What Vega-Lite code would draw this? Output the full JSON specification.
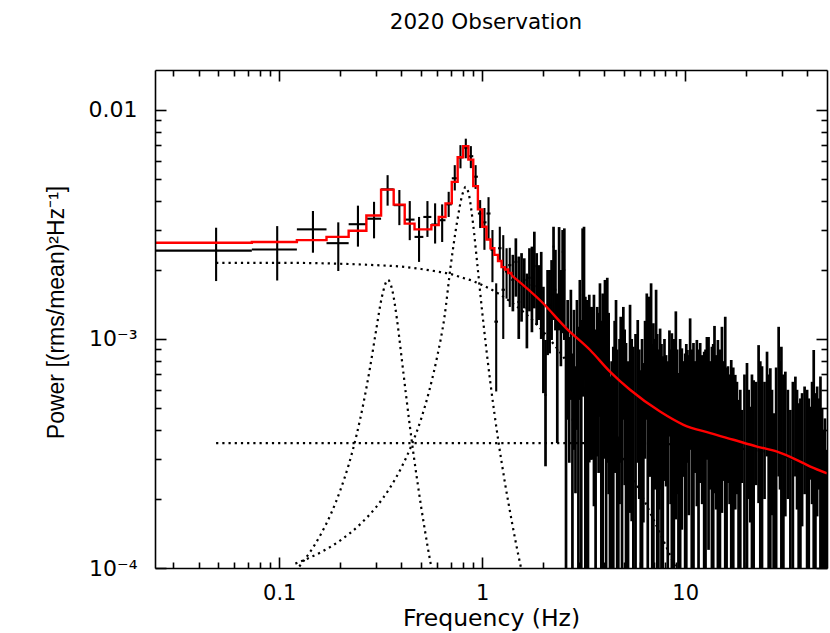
{
"$schema": "https://vega.github.io/schema/vega-lite/v6.json",
"width": 672, "height": 498,
"autosize": {"type": "none"},
"padding": {"left": 155, "top": 70, "right": 3, "bottom": 65},
"background": "white",
"title": {"text": "2020 Observation", "font": "DejaVu Sans", "fontSize": 21.5, "fontWeight": "normal", "color": "black", "anchor": "middle", "baseline": "alphabetic", "offset": 19, "dx": -5},
"config": {"view": {"stroke": null}},
"datasets": {
"bins": [
{"f":0.04883,"flo":0.02441,"fhi":0.07324,"p":2.43e-3,"lo":1.79e-3,"hi":3.06e-3},
{"f":0.09766,"flo":0.07324,"fhi":0.1221,"p":2.46e-3,"lo":1.80e-3,"hi":3.11e-3},
{"f":0.1465,"flo":0.1221,"fhi":0.1709,"p":3.01e-3,"lo":2.38e-3,"hi":3.62e-3},
{"f":0.1953,"flo":0.1709,"fhi":0.2197,"p":2.62e-3,"lo":1.98e-3,"hi":3.23e-3},
{"f":0.2441,"flo":0.2197,"fhi":0.2686,"p":3.17e-3,"lo":2.53e-3,"hi":3.82e-3},
{"f":0.2930,"flo":0.2686,"fhi":0.3174,"p":3.35e-3,"lo":2.75e-3,"hi":3.97e-3},
{"f":0.3418,"flo":0.3174,"fhi":0.3662,"p":4.50e-3,"lo":3.82e-3,"hi":5.19e-3},
{"f":0.3906,"flo":0.3662,"fhi":0.4150,"p":3.84e-3,"lo":3.14e-3,"hi":4.47e-3},
{"f":0.4395,"flo":0.4150,"fhi":0.4639,"p":3.32e-3,"lo":2.70e-3,"hi":4.00e-3},
{"f":0.4883,"flo":0.4639,"fhi":0.5127,"p":2.79e-3,"lo":2.17e-3,"hi":3.41e-3},
{"f":0.5371,"flo":0.5127,"fhi":0.5615,"p":3.41e-3,"lo":2.79e-3,"hi":4.00e-3},
{"f":0.5859,"flo":0.5615,"fhi":0.6104,"p":3.16e-3,"lo":2.61e-3,"hi":3.91e-3},
{"f":0.6348,"flo":0.6104,"fhi":0.6592,"p":3.30e-3,"lo":2.65e-3,"hi":3.87e-3},
{"f":0.6836,"flo":0.6592,"fhi":0.7080,"p":3.87e-3,"lo":3.41e-3,"hi":4.39e-3},
{"f":0.7324,"flo":0.7080,"fhi":0.7568,"p":5.03e-3,"lo":4.45e-3,"hi":5.74e-3},
{"f":0.7813,"flo":0.7568,"fhi":0.8057,"p":6.21e-3,"lo":5.56e-3,"hi":7.02e-3},
{"f":0.8301,"flo":0.8057,"fhi":0.8545,"p":6.84e-3,"lo":6.15e-3,"hi":7.49e-3},
{"f":0.8789,"flo":0.8545,"fhi":0.9033,"p":6.28e-3,"lo":5.57e-3,"hi":6.95e-3},
{"f":0.9277,"flo":0.9033,"fhi":0.9521,"p":5.11e-3,"lo":4.52e-3,"hi":5.74e-3},
{"f":0.9766,"flo":0.9521,"fhi":1.0010,"p":3.53e-3,"lo":3.05e-3,"hi":4.04e-3},
{"f":1.0254,"flo":1.0010,"fhi":1.0498,"p":3.23e-3,"lo":2.45e-3,"hi":3.73e-3},
{"f":1.0742,"flo":1.0498,"fhi":1.0986,"p":3.53e-3,"lo":2.70e-3,"hi":4.16e-3},
{"f":1.1230,"flo":1.0986,"fhi":1.1475,"p":2.45e-3,"lo":1.77e-3,"hi":2.99e-3},
{"f":1.1719,"flo":1.1475,"fhi":1.1963,"p":1.19e-3,"lo":5.9e-4,"hi":1.75e-3},
{"f":1.2207,"flo":1.1963,"fhi":1.2451,"p":2.49e-3,"lo":2.2e-3,"hi":3.09e-3},
{"f":1.2695,"flo":1.2451,"fhi":1.2939,"p":1.64e-3,"lo":1.0e-3,"hi":2.84e-3},
{"f":1.3184,"flo":1.2939,"fhi":1.3428,"p":1.97e-3,"lo":1.50e-3,"hi":2.49e-3},
{"f":1.3672,"flo":1.3428,"fhi":1.3916,"p":2.10e-3,"lo":1.38e-3,"hi":2.50e-3},
{"f":1.4160,"flo":1.3916,"fhi":1.4404,"p":1.81e-3,"lo":1.32e-3,"hi":2.33e-3},
{"f":1.4648,"flo":1.4404,"fhi":1.4893,"p":2.17e-3,"lo":1.53e-3,"hi":2.75e-3},
{"f":1.5137,"flo":1.4893,"fhi":1.5381,"p":1.45e-3,"lo":1.0e-3,"hi":2.29e-3},
{"f":1.5625,"flo":1.5381,"fhi":1.5869,"p":1.72e-3,"lo":1.19e-3,"hi":2.37e-3},
{"f":1.6113,"flo":1.5869,"fhi":1.6357,"p":1.81e-3,"lo":1.36e-3,"hi":2.25e-3},
{"f":1.6602,"flo":1.6357,"fhi":1.6846,"p":1.36e-3,"lo":9.1e-4,"hi":1.93e-3},
{"f":1.7090,"flo":1.6846,"fhi":1.7334,"p":1.85e-3,"lo":1.32e-3,"hi":2.49e-3},
{"f":1.7578,"flo":1.7334,"fhi":1.7822,"p":1.72e-3,"lo":1.07e-3,"hi":2.53e-3},
{"f":1.8066,"flo":1.7822,"fhi":1.8311,"p":2.08e-3,"lo":1.36e-3,"hi":2.94e-3},
{"f":1.8555,"flo":1.8311,"fhi":1.8799,"p":1.70e-3,"lo":1.15e-3,"hi":2.37e-3},
{"f":1.9043,"flo":1.8799,"fhi":1.9287,"p":1.64e-3,"lo":1.21e-3,"hi":2.10e-3},
{"f":1.9531,"flo":1.9287,"fhi":1.9775,"p":1.60e-3,"lo":1.0e-3,"hi":2.40e-3},
{"f":2.0020,"flo":1.9775,"fhi":2.0264,"p":1.04e-3,"lo":5.8e-4,"hi":1.69e-3},
{"f":2.0508,"flo":2.0264,"fhi":2.0752,"p":5.7e-4,"lo":2.78e-4,"hi":9.9e-4},
{"f":2.0996,"flo":2.0752,"fhi":2.1240,"p":1.41e-3,"lo":8.5e-4,"hi":2.0e-3},
{"f":2.1484,"flo":2.1240,"fhi":2.1729,"p":1.41e-3,"lo":8.65e-4,"hi":2.0e-3},
{"f":2.1973,"flo":2.1729,"fhi":2.2217,"p":1.56e-3,"lo":9.9e-4,"hi":2.21e-3},
{"f":2.2461,"flo":2.2217,"fhi":2.2705,"p":2.53e-3,"lo":1.21e-3,"hi":3.09e-3},
{"f":2.2949,"flo":2.2705,"fhi":2.3193,"p":1.64e-3,"lo":1.09e-3,"hi":2.45e-3},
{"f":2.3438,"flo":2.3193,"fhi":2.3682,"p":8.95e-4,"lo":3.51e-4,"hi":1.58e-3},
{"f":2.3926,"flo":2.3682,"fhi":2.4170,"p":2.10e-3,"lo":1.09e-3,"hi":3.08e-3},
{"f":2.4414,"flo":2.4170,"fhi":2.4658,"p":1.34e-3,"lo":7.6e-4,"hi":2.0e-3},
{"f":2.4902,"flo":2.4658,"fhi":2.5146,"p":2.40e-3,"lo":1.06e-3,"hi":2.99e-3},
{"f":2.5391,"flo":2.5146,"fhi":2.5635,"p":2.0e-3,"lo":9.9e-4,"hi":3.04e-3},
{"f":2.5879,"flo":2.5635,"fhi":2.6123,"p":6.6e-4,"lo":5e-5,"hi":1.13e-3},
{"f":2.6367,"flo":2.6123,"fhi":2.6611,"p":8.95e-4,"lo":4.44e-4,"hi":1.48e-3},
{"f":2.6855,"flo":2.6611,"fhi":2.7100,"p":6.0e-4,"lo":2.88e-4,"hi":1.02e-3},
{"f":2.7344,"flo":2.7100,"fhi":2.7588,"p":9.9e-4,"lo":5.42e-4,"hi":1.64e-3},
{"f":2.7832,"flo":2.7588,"fhi":2.8076,"p":4.44e-4,"lo":5e-5,"hi":8.65e-4},
{"f":2.8320,"flo":2.8076,"fhi":2.8564,"p":7.3e-4,"lo":3.28e-4,"hi":1.34e-3},
{"f":2.8809,"flo":2.8564,"fhi":2.9053,"p":4.44e-4,"lo":2.12e-4,"hi":7.6e-4},
{"f":2.9297,"flo":2.9053,"fhi":2.9541,"p":8.95e-4,"lo":4.01e-4,"hi":1.48e-3},
{"f":2.9785,"flo":2.9541,"fhi":3.0029,"p":6.0e-4,"lo":5e-5,"hi":1.13e-3},
{"f":3.0273,"flo":3.0029,"fhi":3.0518,"p":1.09e-3,"lo":5.42e-4,"hi":1.81e-3},
{"f":3.0762,"flo":3.0518,"fhi":3.1006,"p":6.6e-4,"lo":5e-5,"hi":1.21e-3},
{"f":3.1250,"flo":3.1006,"fhi":3.1494,"p":1.56e-3,"lo":5.6e-4,"hi":3.04e-3},
{"f":3.1738,"flo":3.1494,"fhi":3.1982,"p":1.64e-3,"lo":6.6e-4,"hi":3.09e-3},
{"f":3.2227,"flo":3.1982,"fhi":3.2471,"p":8.1e-4,"lo":5e-5,"hi":1.53e-3},
{"f":3.2715,"flo":3.2471,"fhi":3.2959,"p":7.3e-4,"lo":5e-5,"hi":1.48e-3},
{"f":3.3203,"flo":3.2959,"fhi":3.3447,"p":6.0e-4,"lo":5e-5,"hi":1.21e-3},
{"f":3.3691,"flo":3.3447,"fhi":3.3936,"p":8.95e-4,"lo":2.89e-4,"hi":1.56e-3},
{"f":3.4180,"flo":3.3936,"fhi":3.4424,"p":8.1e-4,"lo":2.97e-4,"hi":1.38e-3},
{"f":3.462,"p":8.4e-4,"lo":2.97e-4,"hi":1.38e-3},
{"f":3.507,"p":7.8e-4,"lo":3.5e-4,"hi":1.2e-3},
{"f":3.553,"p":8.7e-4,"lo":1.86e-4,"hi":1.56e-3},
{"f":3.62,"p":4.4e-4,"lo":5e-5,"hi":1.1e-3},
{"f":3.688,"p":8.4e-4,"lo":3.07e-4,"hi":1.38e-3},
{"f":3.745,"p":7.8e-4,"lo":2.6e-4,"hi":1.3e-3},
{"f":3.804,"p":1.10e-3,"lo":4.58e-4,"hi":1.75e-3},
{"f":3.863,"p":4.8e-4,"lo":5e-5,"hi":1.2e-3},
{"f":3.923,"p":6.3e-4,"lo":5e-5,"hi":1.58e-3},
{"f":3.974,"p":8.5e-4,"lo":3.0e-4,"hi":1.4e-3},
{"f":4.026,"p":1.29e-3,"lo":7.6e-4,"hi":1.81e-3},
{"f":4.079,"p":4.0e-4,"lo":5e-5,"hi":1.0e-3},
{"f":4.133,"p":1.07e-3,"lo":2.88e-4,"hi":1.85e-3},
{"f":4.197,"p":7.6e-4,"lo":2.1e-4,"hi":1.3e-3},
{"f":4.262,"p":2.7e-4,"lo":5e-5,"hi":6.85e-4},
{"f":4.343,"p":3.2e-4,"lo":5e-5,"hi":8.0e-4},
{"f":4.425,"p":3.7e-4,"lo":5e-5,"hi":9.25e-4},
{"f":4.494,"p":7.3e-4,"lo":2.6e-4,"hi":1.2e-3},
{"f":4.564,"p":9.2e-4,"lo":3.52e-4,"hi":1.48e-3},
{"f":4.624,"p":3.6e-4,"lo":5e-5,"hi":9.0e-4},
{"f":4.685,"p":1.5e-4,"lo":5e-5,"hi":3.75e-4},
{"f":4.749,"p":6.0e-4,"lo":1.9e-4,"hi":1.0e-3},
{"f":4.814,"p":7.7e-4,"lo":2.88e-4,"hi":1.25e-3},
{"f":4.886,"p":3.4e-4,"lo":5e-5,"hi":8.5e-4},
{"f":4.959,"p":9.1e-4,"lo":4.44e-4,"hi":1.38e-3},
{"f":5.035,"p":6.6e-4,"lo":2.3e-4,"hi":1.1e-3},
{"f":5.113,"p":3.8e-4,"lo":5e-5,"hi":9.6e-4},
{"f":5.231,"p":3.2e-4,"lo":5e-5,"hi":8.0e-4},
{"f":5.351,"p":7.9e-4,"lo":1.74e-4,"hi":1.41e-3},
{"f":5.452,"p":5.8e-4,"lo":1.6e-4,"hi":1.0e-3},
{"f":5.555,"p":3.7e-4,"lo":5e-5,"hi":9.25e-4},
{"f":5.696,"p":4.2e-4,"lo":5e-5,"hi":1.05e-3},
{"f":5.840,"p":7.5e-4,"lo":2.88e-4,"hi":1.21e-3},
{"f":5.941,"p":5.5e-4,"lo":2.0e-4,"hi":9.0e-4},
{"f":6.043,"p":2.9e-4,"lo":5e-5,"hi":7.3e-4},
{"f":6.133,"p":4.0e-4,"lo":5e-5,"hi":1.0e-3},
{"f":6.225,"p":4.7e-4,"lo":1.58e-4,"hi":7.85e-4},
{"f":6.346,"p":7.5e-4,"lo":3.0e-4,"hi":1.2e-3},
{"f":6.470,"p":1.01e-3,"lo":4.44e-4,"hi":1.58e-3},
{"f":6.544,"p":4.4e-4,"lo":5e-5,"hi":1.1e-3},
{"f":6.618,"p":9.3e-4,"lo":3.39e-4,"hi":1.53e-3},
{"f":6.705,"p":7.8e-4,"lo":2.5e-4,"hi":1.3e-3},
{"f":6.794,"p":1.14e-3,"lo":5.24e-4,"hi":1.75e-3},
{"f":6.883,"p":3.8e-4,"lo":5e-5,"hi":9.5e-4},
{"f":6.974,"p":4.7e-4,"lo":5e-5,"hi":1.17e-3},
{"f":7.082,"p":6.1e-4,"lo":2.2e-4,"hi":1.0e-3},
{"f":7.191,"p":1.12e-3,"lo":6.0e-4,"hi":1.64e-3},
{"f":7.286,"p":4.2e-4,"lo":5e-5,"hi":1.05e-3},
{"f":7.382,"p":3.1e-4,"lo":5e-5,"hi":7.85e-4},
{"f":7.453,"p":5.4e-4,"lo":1.8e-4,"hi":9.0e-4},
{"f":7.526,"p":6.7e-4,"lo":2.2e-4,"hi":1.11e-3},
{"f":7.643,"p":3.8e-4,"lo":5e-5,"hi":9.5e-4},
{"f":7.761,"p":3.4e-4,"lo":5e-5,"hi":8.4e-4},
{"f":7.908,"p":6.2e-4,"lo":2.4e-4,"hi":1.0e-3},
{"f":8.058,"p":5.4e-4,"lo":2.27e-4,"hi":8.5e-4},
{"f":8.211,"p":3.2e-4,"lo":5e-5,"hi":8.0e-4},
{"f":8.366,"p":7.3e-4,"lo":3.75e-4,"hi":1.09e-3},
{"f":8.481,"p":5.5e-4,"lo":1.9e-4,"hi":9.0e-4},
{"f":8.597,"p":4.2e-4,"lo":5e-5,"hi":1.06e-3},
{"f":8.795,"p":4.0e-4,"lo":5e-5,"hi":1.0e-3},
{"f":8.998,"p":7.4e-4,"lo":1.63e-4,"hi":1.32e-3},
{"f":9.131,"p":5.6e-4,"lo":2.1e-4,"hi":9.0e-4},
{"f":9.267,"p":2.8e-4,"lo":5e-5,"hi":7.1e-4},
{"f":9.448,"p":4.0e-4,"lo":5e-5,"hi":1.0e-3},
{"f":9.632,"p":5.3e-4,"lo":1.47e-4,"hi":9.1e-4},
{"f":9.814,"p":5.3e-4,"lo":2.5e-4,"hi":8.0e-4},
{"f":10.0,"p":3.5e-4,"lo":5e-5,"hi":8.65e-4},
{"f":10.13,"p":3.8e-4,"lo":5e-5,"hi":9.5e-4},
{"f":10.26,"p":5.9e-4,"lo":2.88e-4,"hi":8.95e-4},
{"f":10.42,"p":5.1e-4,"lo":1.7e-4,"hi":8.5e-4},
{"f":10.58,"p":7.8e-4,"lo":3.28e-4,"hi":1.23e-3},
{"f":10.78,"p":3.6e-4,"lo":5e-5,"hi":9.0e-4},
{"f":10.99,"p":3.8e-4,"lo":5e-5,"hi":9.6e-4},
{"f":11.2,"p":5.3e-4,"lo":2.6e-4,"hi":8.0e-4},
{"f":11.42,"p":5.9e-4,"lo":1.86e-4,"hi":9.9e-4},
{"f":11.64,"p":3.6e-4,"lo":5e-5,"hi":9.0e-4},
{"f":11.86,"p":6.0e-4,"lo":2.35e-4,"hi":9.6e-4},
{"f":12.13,"p":5.2e-4,"lo":1.9e-4,"hi":8.5e-4},
{"f":12.41,"p":3.5e-4,"lo":5e-5,"hi":8.8e-4},
{"f":12.6,"p":3.6e-4,"lo":5e-5,"hi":9.0e-4},
{"f":12.80,"p":6.6e-4,"lo":2.97e-4,"hi":1.02e-3},
{"f":13.04,"p":5.7e-4,"lo":1.20e-4,"hi":1.02e-3},
{"f":13.29,"p":5.1e-4,"lo":2.2e-4,"hi":8.0e-4},
{"f":13.55,"p":3.7e-4,"lo":5e-5,"hi":9.25e-4},
{"f":13.75,"p":3.8e-4,"lo":5e-5,"hi":9.5e-4},
{"f":13.95,"p":6.8e-4,"lo":2.12e-4,"hi":1.14e-3},
{"f":14.22,"p":5.2e-4,"lo":1.8e-4,"hi":8.5e-4},
{"f":14.50,"p":4.0e-4,"lo":5e-5,"hi":9.9e-4},
{"f":14.84,"p":3.6e-4,"lo":5e-5,"hi":9.0e-4},
{"f":15.18,"p":6.5e-4,"lo":1.74e-4,"hi":1.13e-3},
{"f":15.47,"p":5.2e-4,"lo":2.4e-4,"hi":8.0e-4},
{"f":15.76,"p":5.0e-4,"lo":5e-5,"hi":1.25e-3},
{"f":16.0,"p":3.0e-4,"lo":5e-5,"hi":7.5e-4},
{"f":16.25,"p":5.0e-4,"lo":2.35e-4,"hi":7.6e-4},
{"f":16.56,"p":4.5e-4,"lo":1.9e-4,"hi":7.0e-4},
{"f":16.87,"p":3.2e-4,"lo":5e-5,"hi":8.1e-4},
{"f":17.26,"p":3.0e-4,"lo":5e-5,"hi":7.5e-4},
{"f":17.66,"p":4.4e-4,"lo":1.80e-4,"hi":6.97e-4},
{"f":18.0,"p":4.3e-4,"lo":2.1e-4,"hi":6.5e-4},
{"f":18.33,"p":2.2e-4,"lo":5e-5,"hi":5.42e-4},
{"f":18.69,"p":2.4e-4,"lo":5e-5,"hi":6.0e-4},
{"f":19.05,"p":3.6e-4,"lo":2.35e-4,"hi":4.9e-4},
{"f":19.6,"p":2.8e-4,"lo":5e-5,"hi":7.0e-4},
{"f":20.17,"p":3.1e-4,"lo":5e-5,"hi":7.85e-4},
{"f":20.55,"p":4.0e-4,"lo":2.0e-4,"hi":6.0e-4},
{"f":20.94,"p":3.3e-4,"lo":1.58e-4,"hi":5.06e-4},
{"f":21.34,"p":2.8e-4,"lo":5e-5,"hi":7.0e-4},
{"f":21.75,"p":2.6e-4,"lo":5e-5,"hi":6.6e-4},
{"f":22.37,"p":4.4e-4,"lo":2.3e-4,"hi":6.5e-4},
{"f":23.01,"p":5.7e-4,"lo":1.92e-4,"hi":9.4e-4},
{"f":23.46,"p":3.2e-4,"lo":5e-5,"hi":8.0e-4},
{"f":23.92,"p":3.0e-4,"lo":5e-5,"hi":7.6e-4},
{"f":24.61,"p":4.3e-4,"lo":2.0e-4,"hi":6.5e-4},
{"f":25.32,"p":5.9e-4,"lo":3.07e-4,"hi":8.8e-4},
{"f":25.8,"p":2.8e-4,"lo":5e-5,"hi":7.0e-4},
{"f":26.29,"p":3.0e-4,"lo":5e-5,"hi":7.45e-4},
{"f":26.79,"p":3.9e-4,"lo":1.7e-4,"hi":6.0e-4},
{"f":27.29,"p":1.9e-4,"lo":5e-5,"hi":4.74e-4},
{"f":28.08,"p":3.0e-4,"lo":5e-5,"hi":7.5e-4},
{"f":28.89,"p":6.9e-4,"lo":2.51e-4,"hi":1.13e-3},
{"f":29.34,"p":5.1e-4,"lo":2.2e-4,"hi":8.0e-4},
{"f":29.80,"p":3.7e-4,"lo":5e-5,"hi":9.25e-4},
{"f":30.48,"p":2.8e-4,"lo":5e-5,"hi":7.0e-4},
{"f":31.17,"p":4.4e-4,"lo":1.68e-4,"hi":7.2e-4},
{"f":32.07,"p":4.0e-4,"lo":2.0e-4,"hi":6.0e-4},
{"f":33.00,"p":2.0e-4,"lo":5e-5,"hi":4.9e-4},
{"f":33.95,"p":2.6e-4,"lo":5e-5,"hi":6.5e-4},
{"f":34.93,"p":4.7e-4,"lo":2.51e-4,"hi":6.85e-4},
{"f":35.59,"p":3.9e-4,"lo":1.8e-4,"hi":6.0e-4},
{"f":36.26,"p":2.1e-4,"lo":5e-5,"hi":5.24e-4},
{"f":36.97,"p":2.2e-4,"lo":5e-5,"hi":5.5e-4},
{"f":37.69,"p":3.7e-4,"lo":1.52e-4,"hi":5.8e-4},
{"f":38.78,"p":4.2e-4,"lo":2.1e-4,"hi":6.2e-4},
{"f":39.90,"p":2.4e-4,"lo":5e-5,"hi":6.0e-4},
{"f":40.66,"p":2.2e-4,"lo":5e-5,"hi":5.5e-4},
{"f":41.43,"p":3.7e-4,"lo":2.43e-4,"hi":5.06e-4},
{"f":42.21,"p":4.2e-4,"lo":1.9e-4,"hi":6.5e-4},
{"f":43.01,"p":3.6e-4,"lo":5e-5,"hi":8.95e-4},
{"f":43.85,"p":2.3e-4,"lo":5e-5,"hi":5.8e-4},
{"f":44.71,"p":3.9e-4,"lo":1.68e-4,"hi":6.2e-4},
{"f":45.56,"p":3.9e-4,"lo":2.2e-4,"hi":5.5e-4},
{"f":46.42,"p":2.7e-4,"lo":5e-5,"hi":6.85e-4},
{"f":47.3,"p":2.0e-4,"lo":5e-5,"hi":5.0e-4},
{"f":48.19,"p":1.6e-4,"lo":5e-5,"hi":4.01e-4},
{"f":48.85,"p":1.8e-4,"lo":5e-5,"hi":4.5e-4},
{"f":49.52,"p":1.3e-4,"lo":5e-5,"hi":3.28e-4}
],
"modelStep": [
{"f":0.02441,"p":2.63e-3},{"f":0.07324,"p":2.65e-3},{"f":0.1221,"p":2.70e-3},{"f":0.1709,"p":2.79e-3},
{"f":0.2197,"p":2.97e-3},{"f":0.2686,"p":3.46e-3},{"f":0.3174,"p":4.49e-3},{"f":0.3662,"p":3.86e-3},
{"f":0.4150,"p":3.19e-3},{"f":0.4639,"p":3.01e-3},{"f":0.5127,"p":3.01e-3},{"f":0.5615,"p":3.14e-3},
{"f":0.6104,"p":3.41e-3},{"f":0.6592,"p":3.91e-3},{"f":0.7080,"p":4.85e-3},{"f":0.7568,"p":6.21e-3},
{"f":0.8057,"p":6.95e-3},{"f":0.8545,"p":6.07e-3},{"f":0.9033,"p":4.65e-3},{"f":0.9521,"p":3.68e-3},
{"f":1.0010,"p":3.09e-3},{"f":1.0498,"p":2.72e-3},{"f":1.0986,"p":2.49e-3},{"f":1.1475,"p":2.33e-3},
{"f":1.1963,"p":2.19e-3},{"f":1.2451,"p":2.06e-3},{"f":1.2939,"p":2.01e-3},{"f":1.3428,"p":1.94e-3},
{"f":1.3916,"p":1.90e-3}
],
"modelSmooth": [
{"f":1.3916,"p":1.90e-3},{"f":1.967,"p":1.45e-3},{"f":2.605,"p":1.11e-3},{"f":3.40,"p":8.95e-4},
{"f":4.26,"p":7.20e-4},{"f":5.35,"p":6.0e-4},{"f":7.52,"p":4.82e-4},{"f":9.81,"p":4.22e-4},
{"f":13.3,"p":3.88e-4},{"f":17.3,"p":3.63e-4},{"f":22.6,"p":3.39e-4},{"f":28.4,"p":3.22e-4},
{"f":35.6,"p":2.96e-4},{"f":41.4,"p":2.77e-4},{"f":50.0,"p":2.59e-4}
],
"comps": [
{"comp":"broad","f":0.04883,"p":2.15e-3},{"comp":"broad","f":0.1,"p":2.15e-3},{"comp":"broad","f":0.2,"p":2.13e-3},
{"comp":"broad","f":0.3,"p":2.10e-3},{"comp":"broad","f":0.4,"p":2.07e-3},{"comp":"broad","f":0.5,"p":2.02e-3},
{"comp":"broad","f":0.6,"p":1.97e-3},{"comp":"broad","f":0.7,"p":1.92e-3},{"comp":"broad","f":0.8,"p":1.85e-3},
{"comp":"broad","f":0.9,"p":1.79e-3},{"comp":"broad","f":1.0,"p":1.72e-3},{"comp":"broad","f":1.2,"p":1.58e-3},
{"comp":"broad","f":1.4,"p":1.44e-3},{"comp":"broad","f":1.6,"p":1.31e-3},{"comp":"broad","f":1.8,"p":1.19e-3},
{"comp":"broad","f":2.0,"p":1.075e-3},{"comp":"broad","f":2.5,"p":8.4e-4},{"comp":"broad","f":3.0,"p":6.6e-4},
{"comp":"broad","f":3.5,"p":5.3e-4},{"comp":"broad","f":4.0,"p":4.3e-4},{"comp":"broad","f":5.0,"p":2.97e-4},
{"comp":"broad","f":6.0,"p":2.15e-4},{"comp":"broad","f":7.0,"p":1.62e-4},{"comp":"broad","f":8.0,"p":1.26e-4},
{"comp":"broad","f":9.0,"p":1.0e-4},{"comp":"broad","f":9.5,"p":9.0e-5},
{"comp":"qpo1","f":0.12,"p":9.68e-5},{"comp":"qpo1","f":0.14,"p":1.155e-4},{"comp":"qpo1","f":0.16,"p":1.40e-4},
{"comp":"qpo1","f":0.18,"p":1.73e-4},{"comp":"qpo1","f":0.20,"p":2.19e-4},{"comp":"qpo1","f":0.22,"p":2.83e-4},
{"comp":"qpo1","f":0.24,"p":3.79e-4},{"comp":"qpo1","f":0.26,"p":5.25e-4},{"comp":"qpo1","f":0.28,"p":7.50e-4},
{"comp":"qpo1","f":0.30,"p":1.09e-3},{"comp":"qpo1","f":0.32,"p":1.52e-3},{"comp":"qpo1","f":0.343,"p":1.81e-3},
{"comp":"qpo1","f":0.36,"p":1.64e-3},{"comp":"qpo1","f":0.38,"p":1.22e-3},{"comp":"qpo1","f":0.40,"p":8.39e-4},
{"comp":"qpo1","f":0.42,"p":5.82e-4},{"comp":"qpo1","f":0.44,"p":4.16e-4},{"comp":"qpo1","f":0.46,"p":3.08e-4},
{"comp":"qpo1","f":0.48,"p":2.36e-4},{"comp":"qpo1","f":0.50,"p":1.85e-4},{"comp":"qpo1","f":0.52,"p":1.49e-4},
{"comp":"qpo1","f":0.54,"p":1.22e-4},{"comp":"qpo1","f":0.56,"p":1.02e-4},{"comp":"qpo1","f":0.58,"p":8.6e-5},
{"comp":"qpo2","f":0.12,"p":1.045e-4},{"comp":"qpo2","f":0.14,"p":1.106e-4},{"comp":"qpo2","f":0.16,"p":1.171e-4},
{"comp":"qpo2","f":0.20,"p":1.32e-4},{"comp":"qpo2","f":0.25,"p":1.55e-4},{"comp":"qpo2","f":0.30,"p":1.845e-4},
{"comp":"qpo2","f":0.35,"p":2.23e-4},{"comp":"qpo2","f":0.40,"p":2.75e-4},{"comp":"qpo2","f":0.45,"p":3.46e-4},
{"comp":"qpo2","f":0.50,"p":4.48e-4},{"comp":"qpo2","f":0.55,"p":6.01e-4},{"comp":"qpo2","f":0.60,"p":8.38e-4},
{"comp":"qpo2","f":0.65,"p":1.23e-3},{"comp":"qpo2","f":0.70,"p":2.1e-3},{"comp":"qpo2","f":0.75,"p":3.2e-3},
{"comp":"qpo2","f":0.80,"p":4.30e-3},{"comp":"qpo2","f":0.829,"p":4.61e-3},{"comp":"qpo2","f":0.86,"p":4.26e-3},
{"comp":"qpo2","f":0.90,"p":3.22e-3},{"comp":"qpo2","f":0.95,"p":2.04e-3},{"comp":"qpo2","f":1.00,"p":1.31e-3},
{"comp":"qpo2","f":1.05,"p":8.89e-4},{"comp":"qpo2","f":1.10,"p":6.32e-4},{"comp":"qpo2","f":1.15,"p":4.69e-4},
{"comp":"qpo2","f":1.20,"p":3.60e-4},{"comp":"qpo2","f":1.25,"p":2.85e-4},{"comp":"qpo2","f":1.30,"p":2.30e-4},
{"comp":"qpo2","f":1.35,"p":1.90e-4},{"comp":"qpo2","f":1.40,"p":1.59e-4},{"comp":"qpo2","f":1.45,"p":1.35e-4},
{"comp":"qpo2","f":1.50,"p":1.16e-4},{"comp":"qpo2","f":1.55,"p":1.01e-4},{"comp":"qpo2","f":1.60,"p":8.87e-5},
{"comp":"const","f":0.04883,"p":3.51e-4},{"comp":"const","f":2.0,"p":3.51e-4},{"comp":"const","f":5.0,"p":3.5e-4},
{"comp":"const","f":10.0,"p":3.45e-4},{"comp":"const","f":20.0,"p":3.3e-4},{"comp":"const","f":30.0,"p":3.1e-4},
{"comp":"const","f":40.0,"p":2.8e-4},{"comp":"const","f":50.0,"p":2.55e-4}
]
},
"resolve": {"axis": {"x": "independent", "y": "independent"}},
"layer": [
{
"data": {"name": "comps"},
"mark": {"type": "line", "color": "black", "strokeWidth": 2.2, "strokeDash": [2.2, 4], "clip": true, "interpolate": "monotone"},
"encoding": {
"x": {"field": "f", "type": "quantitative", "scale": {"type": "log", "domain": [0.02441, 50], "nice": false},
"axis": {"orient": "bottom", "values": [0.1, 1, 10], "format": "~g", "zindex": 1, "domain": true, "domainColor": "black", "domainWidth": 1.6, "tickSize": -11, "tickWidth": 1.6, "tickColor": "black", "grid": false, "labelFont": "DejaVu Sans", "labelFontSize": 21, "labelColor": "black", "labelPadding": 25, "labelFlush": false, "labelOverlap": false, "title": "Frequency (Hz)", "titleFont": "DejaVu Sans", "titleFontSize": 23.5, "titleFontWeight": "normal", "titleColor": "black", "titleBaseline": "alphabetic", "titleY": 57}},
"y": {"field": "p", "type": "quantitative", "scale": {"type": "log", "domain": [0.0001, 0.01494], "nice": false},
"axis": {"orient": "left", "values": [0.0001, 0.001, 0.01], "labelExpr": "datum.value < 0.0005 ? '10⁻⁴' : datum.value < 0.005 ? '10⁻³' : '0.01'", "zindex": 1, "domain": true, "domainColor": "black", "domainWidth": 1.6, "tickSize": -11, "tickWidth": 1.6, "tickColor": "black", "grid": false, "labelFont": "DejaVu Sans", "labelFontSize": 22, "labelColor": "black", "labelPadding": 29, "labelFlush": false, "labelOverlap": false, "labelBaseline": "middle", "title": "Power [(rms/mean)²Hz⁻¹]", "titleFont": "Liberation Sans", "titleFontSize": 23, "titleFontWeight": "normal", "titleColor": "black", "titleAngle": -90, "titleBaseline": "alphabetic", "titleX": -92, "titleY": 242}},
"detail": {"field": "comp"}
}
},
{
"data": {"name": "bins"},
"mark": {"type": "rule", "color": "black", "clip": true},
"encoding": {
"x": {"field": "f", "type": "quantitative", "scale": {"type": "log", "domain": [0.02441, 50], "nice": false},
"axis": {"orient": "bottom", "values": [0.03, 0.04, 0.05, 0.06, 0.07, 0.08, 0.09, 0.2, 0.3, 0.4, 0.5, 0.6, 0.7, 0.8, 0.9, 2, 3, 4, 5, 6, 7, 8, 9, 20, 30, 40], "zindex": 1, "domain": false, "tickSize": -6, "tickWidth": 1.6, "tickColor": "black", "grid": false, "labels": false, "title": null}},
"y": {"field": "lo", "type": "quantitative", "scale": {"type": "log", "domain": [0.0001, 0.01494], "nice": false},
"axis": {"orient": "left", "values": [0.0002, 0.0003, 0.0004, 0.0005, 0.0006, 0.0007, 0.0008, 0.0009, 0.002, 0.003, 0.004, 0.005, 0.006, 0.007, 0.008, 0.009], "zindex": 1, "domain": false, "tickSize": -6, "tickWidth": 1.6, "tickColor": "black", "grid": false, "labels": false, "title": null}},
"y2": {"field": "hi"},
"strokeWidth": {"condition": {"test": "datum.f > 1.4", "value": 2.7}, "value": 2.1}
}
},
{
"data": {"name": "bins"},
"transform": [{"filter": "datum.flo != null"}],
"mark": {"type": "rule", "color": "black", "strokeWidth": 2.1, "clip": true},
"encoding": {
"x": {"field": "flo", "type": "quantitative", "scale": {"type": "log", "domain": [0.02441, 50], "nice": false},
"axis": {"orient": "top", "values": [0.1, 1, 10], "zindex": 1, "domain": true, "domainColor": "black", "domainWidth": 1.6, "tickSize": -11, "tickWidth": 1.6, "tickColor": "black", "grid": false, "labels": false, "title": null}},
"x2": {"field": "fhi"},
"y": {"field": "p", "type": "quantitative", "scale": {"type": "log", "domain": [0.0001, 0.01494], "nice": false},
"axis": {"orient": "right", "values": [0.0001, 0.001, 0.01], "zindex": 1, "domain": true, "domainColor": "black", "domainWidth": 1.6, "tickSize": -11, "tickWidth": 1.6, "tickColor": "black", "grid": false, "labels": false, "title": null}}
}
},
{
"data": {"name": "modelStep"},
"mark": {"type": "line", "color": "#ff0000", "strokeWidth": 2.4, "interpolate": "step-after", "clip": true},
"encoding": {
"x": {"field": "f", "type": "quantitative", "scale": {"type": "log", "domain": [0.02441, 50], "nice": false},
"axis": {"orient": "top", "values": [0.03, 0.04, 0.05, 0.06, 0.07, 0.08, 0.09, 0.2, 0.3, 0.4, 0.5, 0.6, 0.7, 0.8, 0.9, 2, 3, 4, 5, 6, 7, 8, 9, 20, 30, 40], "zindex": 1, "domain": false, "tickSize": -6, "tickWidth": 1.6, "tickColor": "black", "grid": false, "labels": false, "title": null}},
"y": {"field": "p", "type": "quantitative", "scale": {"type": "log", "domain": [0.0001, 0.01494], "nice": false},
"axis": {"orient": "right", "values": [0.0002, 0.0003, 0.0004, 0.0005, 0.0006, 0.0007, 0.0008, 0.0009, 0.002, 0.003, 0.004, 0.005, 0.006, 0.007, 0.008, 0.009], "zindex": 1, "domain": false, "tickSize": -6, "tickWidth": 1.6, "tickColor": "black", "grid": false, "labels": false, "title": null}}
}
},
{
"data": {"name": "modelSmooth"},
"mark": {"type": "line", "color": "#ff0000", "strokeWidth": 2.4, "interpolate": "monotone", "clip": true},
"encoding": {
"x": {"field": "f", "type": "quantitative", "scale": {"type": "log", "domain": [0.02441, 50], "nice": false}, "axis": null},
"y": {"field": "p", "type": "quantitative", "scale": {"type": "log", "domain": [0.0001, 0.01494], "nice": false}, "axis": null}
}
}
]
}
